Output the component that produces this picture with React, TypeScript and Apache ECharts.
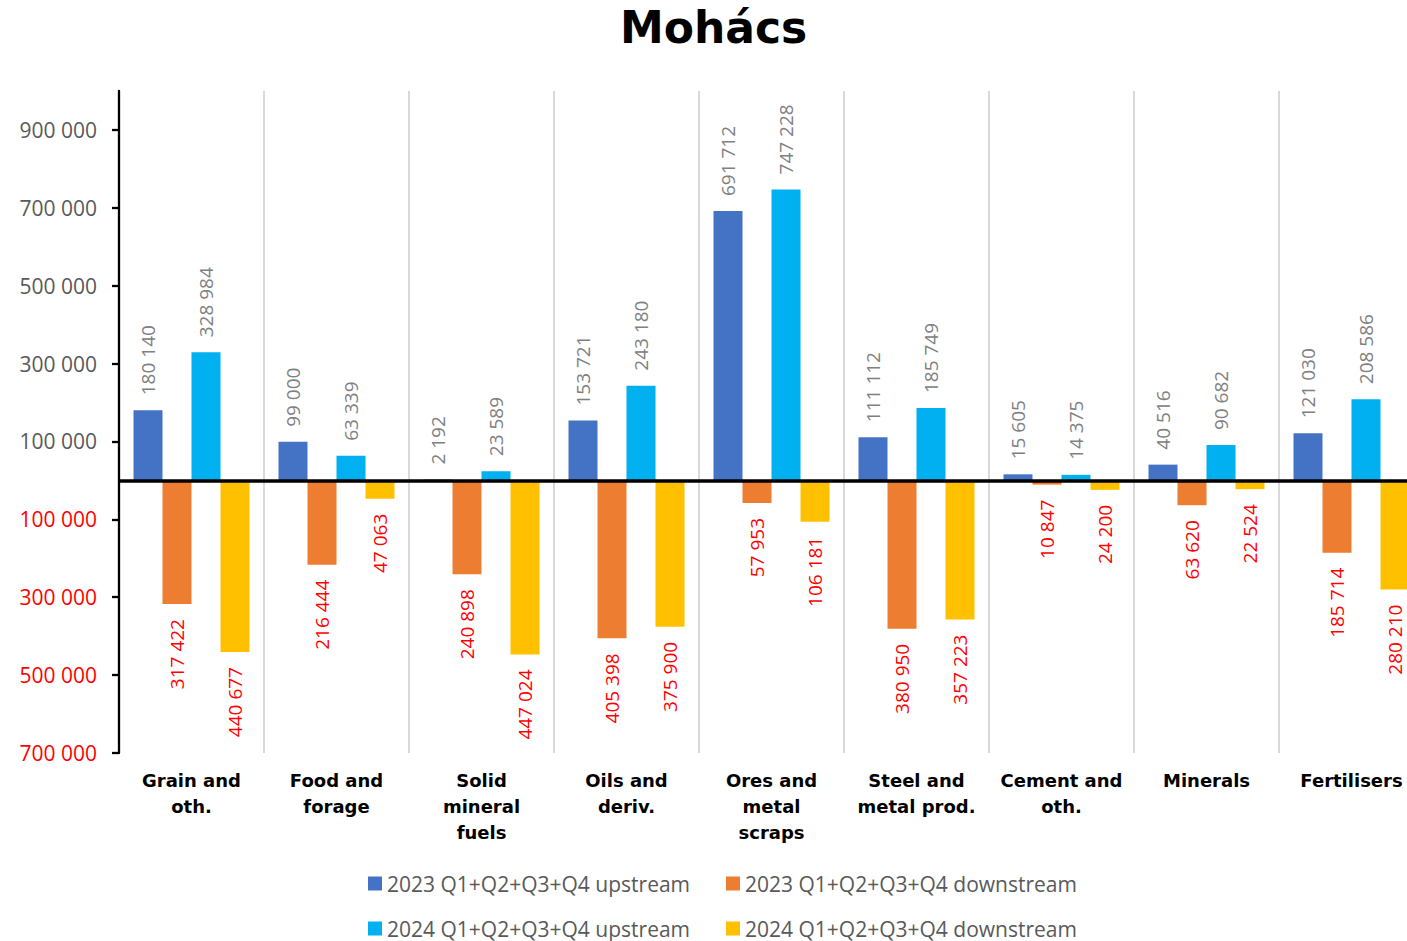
import React, { useEffect, useRef } from "react";
import * as echarts from "echarts";

const categories = [
  "Grain and\noth.",
  "Food and\nforage",
  "Solid\nmineral\nfuels",
  "Oils and\nderiv.",
  "Ores and\nmetal\nscraps",
  "Steel and\nmetal prod.",
  "Cement and\noth.",
  "Minerals",
  "Fertilisers",
];

const seriesNames = [
  "2023 Q1+Q2+Q3+Q4 upstream",
  "2023 Q1+Q2+Q3+Q4 downstream",
  "2024 Q1+Q2+Q3+Q4 upstream",
  "2024 Q1+Q2+Q3+Q4 downstream",
];

const upstream2023 = [180140, 99000, 2192, 153721, 691712, 111112, 15605, 40516, 121030];
const downstream2023 = [317422, 216444, 240898, 405398, 57953, 380950, 10847, 63620, 185714];
const upstream2024 = [328984, 63339, 23589, 243180, 747228, 185749, 14375, 90682, 208586];
const downstream2024 = [440677, 47063, 447024, 375900, 106181, 357223, 24200, 22524, 280210];

const colors = ["#4472C4", "#ED7D31", "#00B0F0", "#FFC000"];

const fmt = (v: number) =>
  String(Math.round(Math.abs(v))).replace(/\B(?=(\d{3})+(?!\d))/g, " ");

const NUM_FONT = "'Open Sans', sans-serif";

export default function App() {
  const ref = useRef<HTMLDivElement>(null);

  useEffect(() => {
    if (!ref.current) return;
    const chart = echarts.init(ref.current, null, { renderer: "svg" });

    const upLabel = {
      show: true,
      position: "top",
      rotate: 90,
      align: "left",
      verticalAlign: "middle",
      distance: 15,
      color: "#808080",
      fontSize: 19,
      fontFamily: NUM_FONT,
      formatter: (p: any) => fmt(p.value),
    };
    const downLabel = {
      show: true,
      position: "bottom",
      rotate: 90,
      align: "right",
      verticalAlign: "middle",
      distance: 15,
      color: "#FF0000",
      fontSize: 19,
      fontFamily: NUM_FONT,
      formatter: (p: any) => fmt(p.value),
    };

    const seriesData = [
      upstream2023,
      downstream2023.map((v) => -v),
      upstream2024,
      downstream2024.map((v) => -v),
    ];

    const series: any[] = seriesData.map((d, i) => ({
      name: seriesNames[i],
      type: "bar",
      data: d,
      barGap: "0%",
      barCategoryGap: "20%",
      itemStyle: { color: colors[i] },
      label: i % 2 === 0 ? upLabel : downLabel,
    }));
    series[3].markLine = {
      silent: true,
      symbol: "none",
      z: 10,
      label: { show: false },
      lineStyle: { color: "#000000", width: 3.5, type: "solid" },
      data: [{ yAxis: 0 }],
    };

    const legendPos = [
      { left: 368, top: 873 },
      { left: 726, top: 873 },
      { left: 368, top: 918 },
      { left: 726, top: 918 },
    ];

    chart.setOption({
      animation: false,
      color: colors,
      title: {
        text: "Mohács",
        left: 620,
        top: 5,
        padding: 0,
        textStyle: {
          fontFamily: "'DejaVu Sans', sans-serif",
          fontWeight: "bold",
          fontSize: 44,
          color: "#000000",
        },
      },
      legend: legendPos.map((p, i) => ({
        data: [seriesNames[i]],
        left: p.left,
        top: p.top,
        padding: 0,
        icon: "rect",
        itemWidth: 14,
        itemHeight: 14,
        selectedMode: false,
        textStyle: { fontSize: 21, color: "#595959", fontFamily: NUM_FONT },
      })),
      grid: {
        left: 119,
        width: 1305,
        top: 91,
        bottom: 188,
        containLabel: false,
        outerBoundsMode: "none",
      },
      xAxis: {
        type: "category",
        data: categories,
        axisLine: { show: false, onZero: false },
        axisTick: { show: false },
        splitLine: { show: true, interval: 0, lineStyle: { color: "#D9D9D9", width: 2 } },
        axisLabel: {
          interval: 0,
          margin: 14,
          color: "#000000",
          fontFamily: "'DejaVu Sans', sans-serif",
          fontWeight: "bold",
          fontSize: 18,
          lineHeight: 26,
        },
      },
      yAxis: {
        type: "value",
        min: -700000,
        max: 1000000,
        interval: 200000,
        splitLine: { show: false },
        axisLine: { show: true, lineStyle: { color: "#000000", width: 2.3 } },
        axisTick: { show: true, length: 7, lineStyle: { color: "#000000", width: 2.3 } },
        axisLabel: {
          margin: 22,
          fontSize: 21,
          fontFamily: NUM_FONT,
          showMaxLabel: false,
          showMinLabel: true,
          formatter: (v: number) => (v >= 1000000 ? "" : fmt(v)),
          color: (v: any) => (Number(v) < 0 ? "#FF0000" : "#595959"),
        },
      },
      series,
    });

    return () => chart.dispose();
  }, []);

  return (
    <div
      ref={ref}
      style={{ position: "absolute", left: 0, top: 0, width: 1407, height: 941 }}
    />
  );
}
